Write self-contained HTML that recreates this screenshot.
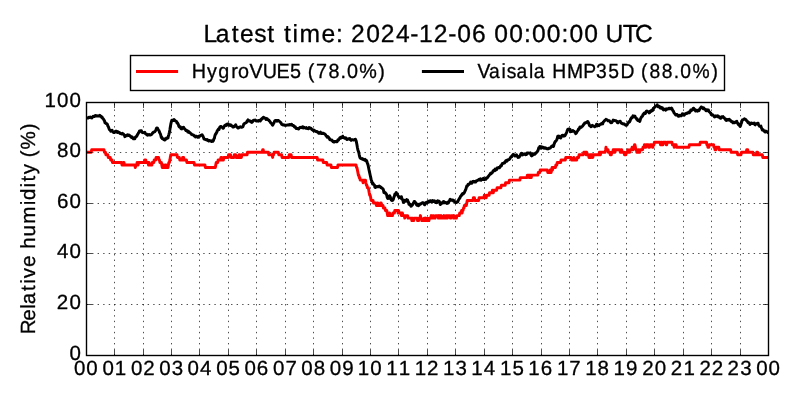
<!DOCTYPE html>
<html><head><meta charset="utf-8"><title>Relative humidity</title>
<style>html,body{margin:0;padding:0;background:#fff;}body{width:800px;height:400px;overflow:hidden;}svg{display:block;position:absolute;left:0;top:0;will-change:transform;}text{font-family:"Liberation Sans",sans-serif;fill:#000;text-rendering:geometricPrecision;stroke:#000;stroke-width:0.3px;stroke-linejoin:round;}</style>
</head><body>
<svg width="800" height="400" viewBox="0 0 800 400">
<rect x="0" y="0" width="800" height="400" fill="#ffffff"/>
<path d="M114.5 355.5V102.5M143.5 355.5V102.5M171.5 355.5V102.5M199.5 355.5V102.5M228.5 355.5V102.5M256.5 355.5V102.5M285.5 355.5V102.5M313.5 355.5V102.5M342.5 355.5V102.5M370.5 355.5V102.5M398.5 355.5V102.5M427.5 355.5V102.5M455.5 355.5V102.5M484.5 355.5V102.5M512.5 355.5V102.5M541.5 355.5V102.5M569.5 355.5V102.5M597.5 355.5V102.5M626.5 355.5V102.5M654.5 355.5V102.5M683.5 355.5V102.5M711.5 355.5V102.5M740.5 355.5V102.5M86.5 304.5H768.5M86.5 253.5H768.5M86.5 203.5H768.5M86.5 152.5H768.5" fill="none" stroke="#000" stroke-width="0.7" stroke-dasharray="1.39 4.17"/>
<clipPath id="c"><rect x="86.5" y="102.5" width="682.0" height="253.0"/></clipPath>
<path clip-path="url(#c)" d="M86.5 152.3L91.2 152.3L91.7 149.8L104.0 149.8L104.5 152.3L105.4 152.3L105.9 154.8L107.8 154.8L108.3 157.4L110.2 157.4L110.7 159.9L112.1 159.9L112.5 162.4L121.5 162.4L122.0 164.9L123.0 164.9L123.4 162.4L123.9 162.4L124.4 164.9L134.8 164.9L135.3 167.5L135.3 167.5L135.8 164.9L136.7 164.9L137.2 162.4L137.2 162.4L137.7 164.9L138.1 164.9L138.6 162.4L144.3 162.4L144.8 159.9L145.7 159.9L146.2 162.4L148.1 162.4L148.5 164.9L148.5 164.9L149.0 162.4L149.0 162.4L149.5 164.9L151.9 164.9L152.3 162.4L153.8 162.4L154.2 159.9L155.7 159.9L156.1 157.4L158.5 157.4L159.0 159.9L159.4 159.9L159.9 162.4L161.3 162.4L161.8 164.9L161.8 164.9L162.3 167.5L162.8 167.5L163.2 164.9L163.2 164.9L163.7 167.5L164.7 167.5L165.1 164.9L166.1 164.9L166.5 167.5L168.0 167.5L168.4 164.9L168.4 164.9L168.9 162.4L169.4 162.4L169.9 159.9L169.9 159.9L170.3 157.4L170.3 157.4L170.8 154.8L177.0 154.8L177.4 157.4L179.3 157.4L179.8 159.9L182.2 159.9L182.6 157.4L183.6 157.4L184.1 159.9L186.4 159.9L186.9 162.4L194.0 162.4L194.5 164.9L204.9 164.9L205.4 167.5L215.3 167.5L215.8 164.9L215.8 164.9L216.3 162.4L217.7 162.4L218.2 159.9L220.5 159.9L221.0 157.4L221.5 157.4L221.9 159.9L223.4 159.9L223.8 157.4L228.1 157.4L228.6 154.8L230.5 154.8L230.9 157.4L233.8 157.4L234.3 154.8L235.7 154.8L236.2 157.4L238.5 157.4L239.0 154.8L239.5 154.8L239.9 157.4L241.4 157.4L241.8 154.8L247.1 154.8L247.5 152.3L262.2 152.3L262.7 149.8L263.2 149.8L263.6 152.3L268.4 152.3L268.8 154.8L272.2 154.8L272.6 157.4L272.6 157.4L273.1 154.8L273.6 154.8L274.1 152.3L278.3 152.3L278.8 154.8L281.6 154.8L282.1 157.4L288.7 157.4L289.2 154.8L291.1 154.8L291.6 157.4L317.1 157.4L317.6 159.9L322.8 159.9L323.3 162.4L326.6 162.4L327.1 164.9L330.9 164.9L331.4 167.5L337.5 167.5L338.0 164.9L356.0 164.9L356.5 167.5L356.9 167.5L357.4 170.0L357.4 170.0L357.9 172.5L357.9 172.5L358.4 175.1L358.8 175.1L359.3 177.6L359.8 177.6L360.2 180.1L362.6 180.1L363.1 182.7L363.1 182.7L363.6 180.1L365.5 180.1L365.9 182.7L365.9 182.7L366.4 185.2L366.9 185.2L367.4 187.7L368.3 187.7L368.8 190.2L368.8 190.2L369.2 192.8L369.2 192.8L369.7 195.3L370.2 195.3L370.7 197.8L370.7 197.8L371.1 200.4L373.0 200.4L373.5 202.9L375.9 202.9L376.4 205.4L376.8 205.4L377.3 202.9L377.8 202.9L378.2 205.4L380.1 205.4L380.6 202.9L381.1 202.9L381.6 205.4L383.0 205.4L383.4 208.0L384.9 208.0L385.4 210.5L386.8 210.5L387.2 213.0L387.2 213.0L387.7 215.6L389.1 215.6L389.6 213.0L389.6 213.0L390.1 215.6L392.4 215.6L392.9 213.0L394.4 213.0L394.8 210.5L397.7 210.5L398.1 213.0L398.1 213.0L398.6 210.5L398.6 210.5L399.1 213.0L401.0 213.0L401.4 215.6L401.4 215.6L401.9 213.0L402.4 213.0L402.9 215.6L404.3 215.6L404.8 218.1L404.8 218.1L405.2 215.6L407.6 215.6L408.1 218.1L411.4 218.1L411.9 220.6L411.9 220.6L412.3 218.1L412.8 218.1L413.3 220.6L413.8 220.6L414.2 218.1L417.1 218.1L417.6 220.6L418.5 220.6L419.0 218.1L419.9 218.1L420.4 215.6L420.4 215.6L420.9 218.1L421.3 218.1L421.8 220.6L423.7 220.6L424.2 218.1L424.7 218.1L425.1 220.6L425.1 220.6L425.6 218.1L425.6 218.1L426.1 220.6L426.6 220.6L427.0 218.1L427.5 218.1L428.0 220.6L428.9 220.6L429.4 218.1L430.8 218.1L431.3 215.6L431.3 215.6L431.8 218.1L432.2 218.1L432.7 215.6L433.7 215.6L434.1 218.1L435.1 218.1L435.6 215.6L437.9 215.6L438.4 218.1L438.9 218.1L439.3 215.6L439.3 215.6L439.8 218.1L440.8 218.1L441.2 215.6L441.2 215.6L441.7 218.1L443.6 218.1L444.1 215.6L444.1 215.6L444.6 218.1L445.5 218.1L446.0 215.6L446.9 215.6L447.4 218.1L447.4 218.1L447.9 215.6L449.8 215.6L450.2 218.1L450.7 218.1L451.2 215.6L453.1 215.6L453.6 218.1L453.6 218.1L454.0 215.6L454.0 215.6L454.5 218.1L456.4 218.1L456.9 215.6L459.2 215.6L459.7 213.0L461.1 213.0L461.6 210.5L461.6 210.5L462.1 213.0L462.1 213.0L462.6 210.5L463.0 210.5L463.5 208.0L464.0 208.0L464.4 205.4L466.3 205.4L466.8 202.9L466.8 202.9L467.3 200.4L473.0 200.4L473.4 197.8L474.4 197.8L474.9 200.4L478.6 200.4L479.1 197.8L483.9 197.8L484.3 195.3L484.3 195.3L484.8 197.8L486.2 197.8L486.7 195.3L489.1 195.3L489.5 192.8L491.9 192.8L492.4 190.2L492.4 190.2L492.9 192.8L493.3 192.8L493.8 190.2L496.6 190.2L497.1 187.7L500.9 187.7L501.4 185.2L505.2 185.2L505.6 182.7L509.0 182.7L509.4 180.1L519.9 180.1L520.3 177.6L527.0 177.6L527.4 175.1L528.9 175.1L529.3 177.6L529.3 177.6L529.8 175.1L530.8 175.1L531.2 177.6L531.2 177.6L531.7 175.1L537.9 175.1L538.3 172.5L539.8 172.5L540.2 170.0L547.3 170.0L547.8 172.5L549.7 172.5L550.2 170.0L550.2 170.0L550.6 172.5L551.1 172.5L551.6 170.0L551.6 170.0L552.1 167.5L552.1 167.5L552.5 170.0L552.5 170.0L553.0 167.5L555.4 167.5L555.9 164.9L556.8 164.9L557.3 162.4L560.6 162.4L561.1 159.9L565.3 159.9L565.8 157.4L571.0 157.4L571.5 159.9L573.4 159.9L573.9 157.4L573.9 157.4L574.3 159.9L576.7 159.9L577.2 157.4L578.6 157.4L579.1 154.8L583.3 154.8L583.8 152.3L585.7 152.3L586.2 154.8L586.2 154.8L586.6 152.3L586.6 152.3L587.1 154.8L588.5 154.8L589.0 157.4L589.5 157.4L590.0 154.8L590.9 154.8L591.4 157.4L591.4 157.4L591.8 154.8L592.3 154.8L592.8 157.4L592.8 157.4L593.3 154.8L599.0 154.8L599.4 152.3L599.9 152.3L600.4 154.8L600.4 154.8L600.8 152.3L605.1 152.3L605.6 149.8L605.6 149.8L606.0 147.2L606.0 147.2L606.5 149.8L608.0 149.8L608.4 152.3L609.8 152.3L610.3 154.8L611.3 154.8L611.7 152.3L612.7 152.3L613.2 149.8L613.2 149.8L613.6 152.3L613.6 152.3L614.1 149.8L614.6 149.8L615.0 152.3L615.0 152.3L615.5 149.8L619.8 149.8L620.3 152.3L620.7 152.3L621.2 149.8L621.7 149.8L622.1 152.3L624.0 152.3L624.5 154.8L625.9 154.8L626.4 152.3L627.4 152.3L627.8 149.8L627.8 149.8L628.3 152.3L629.7 152.3L630.2 149.8L631.6 149.8L632.1 147.2L632.1 147.2L632.6 149.8L633.0 149.8L633.5 147.2L634.0 147.2L634.5 144.7L634.9 144.7L635.4 147.2L635.4 147.2L635.9 149.8L636.4 149.8L636.8 152.3L637.8 152.3L638.3 149.8L638.3 149.8L638.7 152.3L639.7 152.3L640.1 149.8L642.5 149.8L643.0 147.2L643.9 147.2L644.4 144.7L644.9 144.7L645.4 147.2L645.8 147.2L646.3 144.7L648.2 144.7L648.7 147.2L649.6 147.2L650.1 144.7L652.0 144.7L652.5 147.2L652.9 147.2L653.4 144.7L653.9 144.7L654.4 142.2L660.0 142.2L660.5 144.7L661.0 144.7L661.5 142.2L661.9 142.2L662.4 144.7L662.9 144.7L663.4 142.2L665.7 142.2L666.2 144.7L666.7 144.7L667.1 142.2L671.9 142.2L672.4 144.7L673.8 144.7L674.2 147.2L674.2 147.2L674.7 144.7L676.1 144.7L676.6 147.2L688.9 147.2L689.4 144.7L699.8 144.7L700.3 142.2L706.5 142.2L706.9 144.7L707.4 144.7L707.9 147.2L708.8 147.2L709.3 144.7L713.6 144.7L714.0 147.2L714.5 147.2L715.0 149.8L715.9 149.8L716.4 147.2L718.8 147.2L719.2 149.8L730.6 149.8L731.1 152.3L737.2 152.3L737.7 154.8L741.0 154.8L741.5 152.3L746.2 152.3L746.7 149.8L747.7 149.8L748.1 152.3L752.9 152.3L753.3 154.8L756.2 154.8L756.7 152.3L757.6 152.3L758.1 154.8L762.3 154.8L762.8 157.4L768.5 157.4" fill="none" stroke="#ff0000" stroke-width="2.95" stroke-linejoin="round" stroke-linecap="butt"/>
<path clip-path="url(#c)" d="M86.5 117.5L87.0 118.0L87.5 118.0L87.9 117.8L88.4 118.0L88.9 117.3L89.3 117.5L89.8 117.2L90.3 117.1L90.8 117.4L91.2 117.8L91.7 118.0L92.2 117.6L92.7 116.7L93.1 116.3L93.6 116.5L94.1 116.5L94.5 116.6L95.0 115.6L95.5 115.5L96.0 115.9L96.5 116.0L96.9 115.8L97.4 116.0L97.9 116.1L98.3 115.9L98.8 115.9L99.3 115.7L99.8 115.2L100.2 116.3L100.7 116.2L101.2 116.4L101.7 117.5L102.1 117.1L102.6 118.3L103.1 118.7L103.5 119.2L104.0 120.2L104.5 120.8L105.0 122.8L105.4 122.6L105.9 123.5L106.4 123.5L106.9 123.9L107.3 124.1L107.8 125.9L108.3 126.6L108.8 128.0L109.2 129.1L109.7 129.8L110.2 130.1L110.7 131.2L111.1 130.4L111.6 130.5L112.1 130.2L112.5 131.1L113.0 132.0L113.5 132.5L114.0 132.5L114.4 132.5L114.9 132.2L115.4 131.3L115.9 131.3L116.3 131.2L116.8 131.4L117.3 132.5L117.8 132.4L118.2 131.9L118.7 132.3L119.2 132.4L119.7 133.3L120.1 133.5L120.6 133.2L121.1 133.7L121.5 133.9L122.0 133.9L122.5 133.4L123.0 134.0L123.4 134.0L123.9 134.6L124.4 135.3L124.9 136.7L125.3 136.1L125.8 135.8L126.3 135.3L126.8 135.8L127.2 134.9L127.7 134.8L128.2 135.1L128.7 135.4L129.1 135.0L129.6 135.9L130.1 135.8L130.6 136.6L131.0 136.9L131.5 137.4L132.0 136.8L132.4 137.2L132.9 138.2L133.4 138.8L133.9 138.4L134.3 138.6L134.8 138.7L135.3 137.3L135.8 136.8L136.2 136.7L136.7 136.2L137.2 135.3L137.7 134.2L138.1 133.6L138.6 132.8L139.1 131.8L139.5 131.0L140.0 131.2L140.5 130.7L141.0 130.9L141.4 130.8L141.9 132.3L142.4 132.2L142.9 132.7L143.3 132.6L143.8 132.6L144.3 132.5L144.8 132.2L145.2 133.3L145.7 134.0L146.2 134.0L146.7 134.2L147.1 135.0L147.6 135.2L148.1 135.1L148.5 134.6L149.0 134.7L149.5 134.5L150.0 135.1L150.4 135.0L150.9 134.8L151.4 134.5L151.9 134.1L152.3 133.4L152.8 132.9L153.3 132.3L153.8 132.0L154.2 132.0L154.7 131.7L155.2 131.1L155.7 130.4L156.1 129.4L156.6 128.1L157.1 127.9L157.5 128.2L158.0 129.2L158.5 130.0L159.0 130.7L159.4 132.0L159.9 133.0L160.4 133.9L160.9 135.6L161.3 137.4L161.8 137.2L162.3 138.7L162.8 138.9L163.2 138.7L163.7 139.5L164.2 139.6L164.7 140.0L165.1 138.9L165.6 138.6L166.1 139.0L166.5 137.9L167.0 137.9L167.5 138.2L168.0 138.0L168.4 136.0L168.9 134.3L169.4 132.4L169.9 129.8L170.3 126.9L170.8 124.2L171.3 122.0L171.8 120.3L172.2 120.1L172.7 120.1L173.2 120.0L173.6 120.5L174.1 119.5L174.6 120.3L175.1 120.6L175.5 121.0L176.0 121.3L176.5 121.6L177.0 123.0L177.4 122.8L177.9 123.7L178.4 124.7L178.8 126.2L179.3 126.9L179.8 126.8L180.3 126.8L180.8 128.3L181.2 128.8L181.7 128.9L182.2 127.6L182.6 127.6L183.1 128.1L183.6 127.3L184.1 128.1L184.5 128.6L185.0 129.2L185.5 129.8L186.0 130.6L186.4 130.6L186.9 130.5L187.4 130.8L187.8 132.1L188.3 131.3L188.8 131.5L189.3 132.6L189.8 132.6L190.2 132.8L190.7 133.5L191.2 133.8L191.6 134.5L192.1 134.7L192.6 134.8L193.1 135.0L193.5 135.0L194.0 135.8L194.5 136.3L195.0 136.1L195.4 136.9L195.9 136.4L196.4 136.3L196.8 136.2L197.3 136.7L197.8 137.3L198.3 137.2L198.8 136.7L199.2 136.1L199.7 136.2L200.2 135.9L200.6 135.4L201.1 135.3L201.6 135.1L202.1 134.7L202.5 135.4L203.0 136.3L203.5 137.5L204.0 138.9L204.4 138.9L204.9 139.2L205.4 139.6L205.8 139.5L206.3 139.9L206.8 140.0L207.3 139.5L207.7 140.4L208.2 140.4L208.7 140.9L209.2 140.4L209.6 140.5L210.1 140.6L210.6 141.0L211.1 141.2L211.5 141.5L212.0 140.8L212.5 141.0L212.9 141.2L213.4 140.6L213.9 138.8L214.4 138.3L214.8 136.1L215.3 134.5L215.8 134.1L216.3 132.8L216.7 132.6L217.2 130.8L217.7 130.5L218.2 129.4L218.6 128.9L219.1 129.4L219.6 127.6L220.1 126.8L220.5 126.6L221.0 126.4L221.5 126.9L221.9 127.2L222.4 127.5L222.9 128.3L223.4 128.2L223.8 127.3L224.3 126.1L224.8 125.5L225.3 125.1L225.7 125.2L226.2 125.5L226.7 124.2L227.2 124.5L227.6 124.0L228.1 123.8L228.6 125.1L229.1 124.8L229.5 124.8L230.0 125.5L230.5 125.5L230.9 124.9L231.4 125.9L231.9 125.9L232.4 126.1L232.8 127.0L233.3 126.7L233.8 126.9L234.3 126.4L234.7 125.9L235.2 125.7L235.7 124.8L236.2 126.2L236.6 126.8L237.1 127.1L237.6 127.6L238.1 128.1L238.5 128.1L239.0 127.2L239.5 127.3L239.9 127.0L240.4 126.7L240.9 127.0L241.4 127.3L241.8 127.2L242.3 126.9L242.8 126.8L243.3 125.7L243.7 124.3L244.2 123.7L244.7 123.3L245.2 123.3L245.6 122.9L246.1 122.7L246.6 122.2L247.1 121.0L247.5 120.9L248.0 119.9L248.5 120.2L248.9 121.1L249.4 120.9L249.9 121.0L250.4 121.0L250.8 121.8L251.3 122.2L251.8 122.4L252.3 121.9L252.7 121.5L253.2 120.5L253.7 120.2L254.2 120.2L254.6 120.2L255.1 119.9L255.6 120.3L256.1 121.0L256.5 120.8L257.0 120.9L257.5 120.9L257.9 120.8L258.4 121.1L258.9 120.5L259.4 120.4L259.8 120.3L260.3 121.0L260.8 120.1L261.3 119.4L261.7 118.7L262.2 119.0L262.7 118.2L263.2 117.4L263.6 117.3L264.1 117.9L264.6 118.0L265.1 118.1L265.5 118.2L266.0 119.5L266.5 118.7L266.9 118.6L267.4 119.0L267.9 119.7L268.4 120.0L268.8 120.0L269.3 121.0L269.8 121.3L270.3 122.0L270.7 122.8L271.2 123.3L271.7 123.5L272.2 124.6L272.6 125.2L273.1 124.4L273.6 123.3L274.1 122.6L274.5 121.4L275.0 120.7L275.5 120.5L275.9 120.6L276.4 120.5L276.9 121.3L277.4 120.5L277.8 120.4L278.3 120.5L278.8 120.9L279.3 121.3L279.7 121.5L280.2 122.2L280.7 122.5L281.1 123.0L281.6 124.2L282.1 124.5L282.6 124.9L283.1 124.8L283.5 124.8L284.0 125.1L284.5 125.3L284.9 125.1L285.4 125.2L285.9 125.2L286.4 125.2L286.8 125.1L287.3 125.0L287.8 124.9L288.3 125.1L288.7 124.8L289.2 124.9L289.7 124.6L290.1 124.4L290.6 124.7L291.1 125.0L291.6 124.2L292.1 125.1L292.5 125.5L293.0 125.2L293.5 125.5L293.9 126.2L294.4 126.9L294.9 126.6L295.4 127.0L295.8 128.0L296.3 128.6L296.8 128.6L297.3 128.6L297.7 128.4L298.2 128.9L298.7 128.9L299.1 128.2L299.6 127.7L300.1 127.3L300.6 127.5L301.1 127.6L301.5 127.5L302.0 127.7L302.5 126.8L302.9 126.9L303.4 127.9L303.9 127.3L304.4 127.6L304.8 127.8L305.3 128.0L305.8 128.3L306.3 127.5L306.7 128.1L307.2 128.4L307.7 128.4L308.1 128.8L308.6 128.7L309.1 127.6L309.6 128.1L310.0 127.8L310.5 128.2L311.0 128.2L311.5 129.0L311.9 129.6L312.4 129.8L312.9 129.8L313.4 130.7L313.8 130.4L314.3 130.2L314.8 131.0L315.2 131.1L315.7 131.2L316.2 131.7L316.7 131.4L317.1 131.6L317.6 131.8L318.1 132.5L318.6 133.2L319.0 133.1L319.5 133.2L320.0 132.5L320.5 132.1L320.9 133.4L321.4 133.5L321.9 133.2L322.4 133.4L322.8 133.4L323.3 133.2L323.8 133.6L324.2 133.7L324.7 134.0L325.2 134.4L325.7 135.0L326.1 135.8L326.6 136.3L327.1 137.1L327.6 136.5L328.0 136.8L328.5 137.2L329.0 138.4L329.5 138.4L329.9 139.7L330.4 139.9L330.9 139.8L331.4 140.0L331.8 139.9L332.3 141.0L332.8 140.9L333.2 141.8L333.7 142.1L334.2 141.6L334.7 141.9L335.1 141.5L335.6 141.4L336.1 141.4L336.6 141.7L337.0 141.8L337.5 140.8L338.0 139.7L338.5 140.1L338.9 139.2L339.4 138.7L339.9 137.7L340.4 137.4L340.8 138.2L341.3 137.2L341.8 137.4L342.2 137.4L342.7 136.2L343.2 137.4L343.7 137.2L344.1 137.6L344.6 138.2L345.1 138.3L345.6 137.7L346.0 138.5L346.5 139.1L347.0 139.5L347.5 139.1L347.9 139.3L348.4 138.8L348.9 139.0L349.4 138.8L349.8 138.5L350.3 139.6L350.8 139.4L351.2 140.3L351.7 139.9L352.2 139.6L352.7 139.6L353.1 139.9L353.6 140.0L354.1 139.9L354.6 139.6L355.0 139.4L355.5 139.3L356.0 140.5L356.5 142.4L356.9 144.6L357.4 147.5L357.9 149.9L358.4 151.3L358.8 152.4L359.3 155.1L359.8 157.2L360.2 158.0L360.7 158.5L361.2 158.5L361.7 158.8L362.1 158.6L362.6 159.2L363.1 159.0L363.6 159.7L364.0 159.5L364.5 159.7L365.0 159.3L365.5 160.7L365.9 160.1L366.4 160.5L366.9 161.5L367.4 163.4L367.8 164.1L368.3 166.2L368.8 168.8L369.2 170.7L369.7 172.9L370.2 175.2L370.7 177.4L371.1 179.4L371.6 180.8L372.1 182.2L372.6 184.0L373.0 183.2L373.5 184.4L374.0 184.6L374.5 185.2L374.9 187.1L375.4 187.5L375.9 186.8L376.4 186.9L376.8 186.6L377.3 186.8L377.8 186.6L378.2 186.8L378.7 186.2L379.2 186.1L379.7 186.4L380.1 186.4L380.6 187.4L381.1 187.2L381.6 188.0L382.0 188.0L382.5 188.7L383.0 188.9L383.4 189.8L383.9 192.4L384.4 191.8L384.9 192.9L385.4 192.8L385.8 193.5L386.3 193.9L386.8 195.5L387.2 197.4L387.7 198.5L388.2 198.3L388.7 198.4L389.1 197.1L389.6 195.7L390.1 196.5L390.6 197.9L391.0 199.3L391.5 200.3L392.0 200.6L392.4 199.3L392.9 200.2L393.4 199.2L393.9 197.0L394.4 196.3L394.8 194.2L395.3 194.6L395.8 193.3L396.2 192.6L396.7 193.8L397.2 193.8L397.7 195.3L398.1 195.7L398.6 196.9L399.1 197.5L399.6 197.1L400.0 197.5L400.5 197.7L401.0 198.3L401.4 196.7L401.9 198.2L402.4 199.5L402.9 200.1L403.4 202.4L403.8 201.7L404.3 201.2L404.8 200.2L405.2 200.7L405.7 201.2L406.2 200.6L406.7 199.6L407.1 201.0L407.6 200.1L408.1 201.6L408.6 202.8L409.0 204.3L409.5 204.7L410.0 204.0L410.4 205.0L410.9 206.2L411.4 206.1L411.9 204.7L412.3 205.2L412.8 204.1L413.3 203.4L413.8 202.4L414.2 201.4L414.7 201.4L415.2 202.3L415.7 202.8L416.1 203.6L416.6 204.9L417.1 205.3L417.6 204.2L418.0 205.4L418.5 205.8L419.0 205.3L419.4 204.9L419.9 203.9L420.4 203.9L420.9 203.9L421.3 203.3L421.8 203.1L422.3 202.8L422.8 202.9L423.2 202.8L423.7 203.1L424.2 204.4L424.7 204.8L425.1 204.2L425.6 203.1L426.1 202.4L426.6 202.3L427.0 202.9L427.5 202.8L428.0 202.2L428.4 201.3L428.9 201.2L429.4 202.0L429.9 201.8L430.3 200.8L430.8 200.7L431.3 201.4L431.8 201.7L432.2 201.4L432.7 200.6L433.2 201.4L433.7 201.1L434.1 201.2L434.6 200.8L435.1 202.0L435.6 202.6L436.0 202.4L436.5 202.6L437.0 201.3L437.4 201.9L437.9 200.8L438.4 201.0L438.9 201.3L439.3 201.4L439.8 202.8L440.3 204.6L440.8 202.7L441.2 203.1L441.7 203.5L442.2 203.0L442.7 203.1L443.1 201.9L443.6 201.5L444.1 202.4L444.6 202.8L445.0 202.2L445.5 202.6L446.0 202.6L446.4 202.7L446.9 203.5L447.4 203.2L447.9 201.9L448.3 203.0L448.8 201.5L449.3 201.3L449.8 200.0L450.2 199.2L450.7 200.2L451.2 199.7L451.6 200.0L452.1 200.3L452.6 200.0L453.1 200.9L453.6 200.4L454.0 201.3L454.5 201.2L455.0 202.1L455.4 202.0L455.9 202.6L456.4 202.5L456.9 201.9L457.3 201.8L457.8 201.9L458.3 200.4L458.8 199.5L459.2 198.9L459.7 198.2L460.2 197.3L460.6 196.2L461.1 195.9L461.6 195.1L462.1 194.1L462.6 193.6L463.0 194.1L463.5 193.6L464.0 193.0L464.4 192.5L464.9 191.2L465.4 190.3L465.9 189.1L466.3 187.6L466.8 185.9L467.3 186.2L467.8 185.0L468.2 184.2L468.7 184.6L469.2 184.2L469.6 183.7L470.1 183.2L470.6 182.0L471.1 183.1L471.6 183.3L472.0 182.4L472.5 181.7L473.0 182.0L473.4 181.4L473.9 181.9L474.4 182.0L474.9 181.4L475.3 181.2L475.8 182.0L476.3 180.9L476.8 180.7L477.2 180.8L477.7 180.3L478.2 179.9L478.6 179.9L479.1 179.4L479.6 179.9L480.1 179.4L480.5 178.8L481.0 180.3L481.5 179.4L482.0 179.6L482.4 179.5L482.9 179.1L483.4 178.2L483.9 179.2L484.3 179.6L484.8 179.5L485.3 178.9L485.8 179.3L486.2 177.9L486.7 177.9L487.2 178.0L487.6 177.4L488.1 176.6L488.6 176.0L489.1 175.4L489.5 174.8L490.0 174.5L490.5 173.4L491.0 173.8L491.4 172.9L491.9 172.9L492.4 172.6L492.9 171.2L493.3 170.8L493.8 170.2L494.3 170.5L494.8 170.8L495.2 169.1L495.7 169.2L496.2 168.9L496.6 169.6L497.1 167.9L497.6 168.2L498.1 168.1L498.5 167.6L499.0 167.2L499.5 167.7L500.0 166.8L500.4 166.4L500.9 165.5L501.4 165.9L501.9 164.4L502.3 163.5L502.8 163.6L503.3 163.2L503.8 162.9L504.2 162.5L504.7 162.9L505.2 162.0L505.6 161.0L506.1 160.4L506.6 160.4L507.1 161.1L507.5 160.0L508.0 159.9L508.5 159.6L509.0 159.5L509.4 159.2L509.9 158.7L510.4 157.6L510.9 157.0L511.3 156.5L511.8 156.8L512.3 155.6L512.8 154.8L513.2 154.3L513.7 154.9L514.2 154.7L514.6 155.4L515.1 156.0L515.6 155.7L516.1 155.7L516.5 154.8L517.0 156.3L517.5 156.3L518.0 157.4L518.4 156.9L518.9 157.3L519.4 157.0L519.9 155.9L520.3 155.5L520.8 154.1L521.3 154.3L521.8 153.3L522.2 153.6L522.7 154.9L523.2 154.2L523.6 154.2L524.1 153.8L524.6 154.4L525.1 154.5L525.5 154.7L526.0 153.7L526.5 154.5L527.0 153.1L527.4 152.9L527.9 153.1L528.4 152.9L528.9 153.2L529.3 153.2L529.8 153.4L530.3 152.9L530.8 154.4L531.2 155.4L531.7 155.9L532.2 155.5L532.6 155.1L533.1 153.9L533.6 154.4L534.1 153.8L534.5 153.8L535.0 154.2L535.5 153.4L536.0 152.6L536.4 152.6L536.9 152.2L537.4 151.2L537.9 150.7L538.3 149.4L538.8 147.7L539.3 147.8L539.8 146.4L540.2 147.4L540.7 148.1L541.2 147.8L541.6 146.9L542.1 147.6L542.6 147.2L543.1 147.7L543.5 147.3L544.0 148.3L544.5 148.3L545.0 147.8L545.4 147.9L545.9 147.9L546.4 148.6L546.9 148.7L547.3 148.8L547.8 148.9L548.3 148.6L548.7 148.3L549.2 148.4L549.7 148.0L550.2 148.1L550.6 147.6L551.1 147.0L551.6 146.2L552.1 146.1L552.5 145.9L553.0 145.5L553.5 146.5L554.0 144.3L554.4 143.4L554.9 142.0L555.4 141.2L555.9 141.2L556.3 140.3L556.8 139.6L557.3 138.3L557.7 136.2L558.2 136.1L558.7 136.4L559.2 136.3L559.6 137.6L560.1 137.7L560.6 138.0L561.1 137.4L561.5 136.5L562.0 135.5L562.5 135.4L563.0 135.2L563.4 135.5L563.9 136.2L564.4 136.0L564.9 135.7L565.3 135.0L565.8 134.0L566.3 133.2L566.7 132.2L567.2 130.6L567.7 129.5L568.2 129.1L568.6 129.6L569.1 129.7L569.6 129.1L570.1 129.5L570.5 131.7L571.0 131.4L571.5 131.6L572.0 131.6L572.4 130.9L572.9 130.5L573.4 131.1L573.9 131.1L574.3 131.5L574.8 132.3L575.3 132.7L575.7 133.6L576.2 133.2L576.7 132.4L577.2 131.4L577.6 130.9L578.1 130.2L578.6 128.9L579.1 129.1L579.5 128.2L580.0 126.9L580.5 127.2L581.0 127.5L581.4 127.1L581.9 126.5L582.4 126.2L582.8 125.9L583.3 124.9L583.8 124.4L584.3 123.6L584.7 123.0L585.2 122.9L585.7 122.9L586.2 122.5L586.6 122.2L587.1 121.9L587.6 121.5L588.0 121.8L588.5 123.0L589.0 124.0L589.5 125.5L590.0 125.6L590.4 125.9L590.9 126.8L591.4 126.4L591.8 125.7L592.3 125.2L592.8 125.8L593.3 126.1L593.7 126.1L594.2 126.1L594.7 126.8L595.2 126.3L595.6 126.2L596.1 126.1L596.6 124.2L597.0 124.8L597.5 124.5L598.0 125.5L598.5 125.2L599.0 125.6L599.4 125.1L599.9 124.4L600.4 124.3L600.8 124.2L601.3 123.6L601.8 123.9L602.3 123.6L602.7 123.8L603.2 122.1L603.7 121.7L604.2 121.0L604.6 120.7L605.1 120.0L605.6 120.1L606.0 119.4L606.5 119.7L607.0 119.9L607.5 120.1L608.0 120.8L608.4 120.5L608.9 120.8L609.4 120.7L609.8 121.4L610.3 122.0L610.8 122.8L611.3 122.8L611.7 122.6L612.2 121.8L612.7 121.2L613.2 120.1L613.6 120.2L614.1 120.6L614.6 120.5L615.0 120.7L615.5 120.6L616.0 120.7L616.5 121.2L616.9 121.5L617.4 122.6L617.9 122.8L618.4 121.8L618.8 121.7L619.3 121.8L619.8 121.3L620.3 121.3L620.7 122.2L621.2 123.2L621.7 123.1L622.1 123.5L622.6 123.8L623.1 124.0L623.6 123.8L624.0 123.8L624.5 124.3L625.0 124.6L625.5 125.0L625.9 125.3L626.4 124.8L626.9 125.1L627.4 124.2L627.8 123.2L628.3 122.6L628.8 121.8L629.3 122.2L629.7 121.6L630.2 120.6L630.7 118.8L631.1 118.4L631.6 117.6L632.1 117.8L632.6 116.8L633.0 115.8L633.5 116.0L634.0 116.7L634.5 116.6L634.9 116.1L635.4 117.2L635.9 118.0L636.4 118.5L636.8 119.3L637.3 119.1L637.8 120.6L638.3 120.6L638.7 120.6L639.2 120.6L639.7 121.5L640.1 120.4L640.6 118.7L641.1 117.6L641.6 116.8L642.0 116.5L642.5 116.1L643.0 114.4L643.5 114.5L643.9 113.4L644.4 113.0L644.9 113.4L645.4 113.5L645.8 112.5L646.3 111.2L646.8 110.9L647.3 111.3L647.7 111.4L648.2 111.8L648.7 112.4L649.1 112.9L649.6 112.7L650.1 111.3L650.6 111.4L651.0 111.4L651.5 110.2L652.0 110.2L652.5 110.6L652.9 109.7L653.4 108.2L653.9 108.1L654.4 107.4L654.8 107.2L655.3 106.5L655.8 106.2L656.2 105.8L656.7 105.5L657.2 104.8L657.7 105.8L658.1 106.8L658.6 106.0L659.1 106.3L659.6 106.7L660.0 107.9L660.5 107.6L661.0 107.2L661.5 108.3L661.9 108.0L662.4 107.8L662.9 109.3L663.4 109.9L663.8 109.1L664.3 109.4L664.8 109.3L665.2 109.0L665.7 110.1L666.2 109.1L666.7 109.4L667.1 108.8L667.6 109.0L668.1 109.0L668.6 108.5L669.0 108.3L669.5 108.2L670.0 108.8L670.5 108.6L670.9 108.6L671.4 108.1L671.9 108.4L672.4 109.9L672.8 110.7L673.3 111.0L673.8 112.5L674.2 112.9L674.7 113.6L675.2 114.2L675.7 115.0L676.1 114.4L676.6 114.5L677.1 114.4L677.6 115.4L678.0 115.2L678.5 116.3L679.0 116.3L679.5 115.5L679.9 115.2L680.4 115.7L680.9 115.3L681.4 115.8L681.8 114.9L682.3 113.8L682.8 114.2L683.2 113.9L683.7 114.1L684.2 115.1L684.7 114.3L685.1 114.2L685.6 113.7L686.1 113.3L686.6 113.3L687.0 113.5L687.5 113.0L688.0 113.0L688.5 112.3L688.9 112.0L689.4 112.8L689.9 111.8L690.4 111.4L690.8 110.0L691.3 110.5L691.8 109.7L692.2 110.0L692.7 109.2L693.2 108.4L693.7 108.2L694.1 108.9L694.6 109.6L695.1 110.4L695.6 111.0L696.0 110.2L696.5 110.3L697.0 110.4L697.5 111.1L697.9 110.3L698.4 110.5L698.9 110.8L699.4 109.9L699.8 108.7L700.3 108.2L700.8 107.5L701.2 106.9L701.7 107.1L702.2 107.7L702.7 108.2L703.1 108.8L703.6 107.9L704.1 108.6L704.6 109.1L705.0 109.2L705.5 109.9L706.0 110.8L706.5 110.8L706.9 109.7L707.4 110.2L707.9 110.0L708.4 109.9L708.8 111.5L709.3 111.8L709.8 112.3L710.2 112.7L710.7 113.0L711.2 114.5L711.7 114.9L712.1 115.0L712.6 114.7L713.1 115.4L713.6 115.6L714.0 116.3L714.5 117.0L715.0 116.8L715.5 116.1L715.9 115.7L716.4 116.2L716.9 116.5L717.4 116.7L717.8 115.9L718.3 116.7L718.8 117.0L719.2 116.8L719.7 117.8L720.2 118.1L720.7 118.3L721.1 117.8L721.6 116.8L722.1 117.3L722.6 116.7L723.0 116.6L723.5 117.6L724.0 117.5L724.5 118.1L724.9 118.9L725.4 119.5L725.9 120.3L726.4 120.5L726.8 119.3L727.3 120.0L727.8 119.9L728.2 119.6L728.7 120.0L729.2 119.3L729.7 119.7L730.1 120.1L730.6 120.8L731.1 121.5L731.6 121.3L732.0 121.9L732.5 121.7L733.0 122.8L733.5 122.7L733.9 122.2L734.4 122.8L734.9 122.6L735.4 122.2L735.8 121.7L736.3 121.6L736.8 121.4L737.2 122.7L737.7 123.4L738.2 124.4L738.7 124.7L739.1 124.1L739.6 125.7L740.1 126.5L740.6 125.6L741.0 123.9L741.5 122.8L742.0 120.9L742.5 119.7L742.9 119.7L743.4 119.5L743.9 119.5L744.4 118.8L744.8 119.0L745.3 119.5L745.8 119.5L746.2 120.3L746.7 120.7L747.2 121.3L747.7 122.0L748.1 122.7L748.6 122.2L749.1 123.0L749.6 123.7L750.0 124.4L750.5 124.1L751.0 123.1L751.5 122.9L751.9 123.5L752.4 123.4L752.9 123.5L753.3 123.2L753.8 123.2L754.3 123.1L754.8 124.6L755.2 124.9L755.7 124.0L756.2 123.8L756.7 123.6L757.1 123.5L757.6 123.3L758.1 123.2L758.5 124.8L759.0 125.5L759.5 126.3L760.0 126.4L760.5 126.2L760.9 126.1L761.4 127.9L761.9 128.8L762.3 130.0L762.8 129.7L763.3 129.9L763.8 130.8L764.2 131.1L764.7 131.6L765.2 132.0L765.7 131.1L766.1 131.2L766.6 131.5L767.1 131.6L767.5 132.1L768.0 132.4L768.5 133.7" fill="none" stroke="#000000" stroke-width="2.95" stroke-linejoin="round" stroke-linecap="butt"/>
<path d="M86.5 355.5v-5.56M86.5 102.5v5.56M114.5 355.5v-5.56M114.5 102.5v5.56M143.5 355.5v-5.56M143.5 102.5v5.56M171.5 355.5v-5.56M171.5 102.5v5.56M199.5 355.5v-5.56M199.5 102.5v5.56M228.5 355.5v-5.56M228.5 102.5v5.56M256.5 355.5v-5.56M256.5 102.5v5.56M285.5 355.5v-5.56M285.5 102.5v5.56M313.5 355.5v-5.56M313.5 102.5v5.56M342.5 355.5v-5.56M342.5 102.5v5.56M370.5 355.5v-5.56M370.5 102.5v5.56M398.5 355.5v-5.56M398.5 102.5v5.56M427.5 355.5v-5.56M427.5 102.5v5.56M455.5 355.5v-5.56M455.5 102.5v5.56M484.5 355.5v-5.56M484.5 102.5v5.56M512.5 355.5v-5.56M512.5 102.5v5.56M541.5 355.5v-5.56M541.5 102.5v5.56M569.5 355.5v-5.56M569.5 102.5v5.56M597.5 355.5v-5.56M597.5 102.5v5.56M626.5 355.5v-5.56M626.5 102.5v5.56M654.5 355.5v-5.56M654.5 102.5v5.56M683.5 355.5v-5.56M683.5 102.5v5.56M711.5 355.5v-5.56M711.5 102.5v5.56M740.5 355.5v-5.56M740.5 102.5v5.56M768.5 355.5v-5.56M768.5 102.5v5.56M86.5 355.5h5.56M768.5 355.5h-5.56M86.5 304.5h5.56M768.5 304.5h-5.56M86.5 253.5h5.56M768.5 253.5h-5.56M86.5 203.5h5.56M768.5 203.5h-5.56M86.5 152.5h5.56M768.5 152.5h-5.56M86.5 102.5h5.56M768.5 102.5h-5.56" fill="none" stroke="#000" stroke-width="0.7"/>
<rect x="86.5" y="102.5" width="682.0" height="253.0" fill="none" stroke="#000" stroke-width="1.39"/>
<text transform="translate(0 42) scale(0.9978 1)" font-size="24.7" x="203.88 216.19 232.2 240.65 254.74 267.93 276.01 284.53 293.12 300.27 322.25 336.78 344.14 351.83 367.01 381.58 396.76 411.18 419.95 434.64 449.37 458.26 473.14 487.45 495.44 510.32 525.14 533.07 547.95 562.77 570.7 585.57 599.89 606.96 624.03 636.45" y="0">Latest time: 2024-12-06 00:00:00 UTC</text>
<rect x="130.5" y="55.5" width="594" height="35" fill="#fff" stroke="#000" stroke-width="1.39"/>
<path d="M136 71.5H178.1" stroke="#ff0000" stroke-width="2.78"/>
<path d="M421.9 71.5H464" stroke="#000000" stroke-width="2.78"/>
<text transform="translate(0 77.8) scale(0.9634 1)" font-size="20.5" x="199.04 214.88 226.55 239.93 247.12 259.05 272.77 287.04 300.94 313.15 319.57 328.11 340.98 353.46 360.23 372.83 392.57" y="0">HygroVUE5 (78.0%)</text>
<text transform="translate(0 77.8) scale(0.9400 1)" font-size="20.5" x="508.05 520.24 533.64 539.18 549.43 562.82 567.85 580.64 587.59 603.16 620.37 633.98 647.03 660.01 675.32 682 690.84 704 716.71 723.73 736.72 756.8" y="0">Vaisala HMP35D (88.0%)</text>
<text transform="translate(0 359.8) scale(1.0000 1)" font-size="20.5" x="69.4" y="0">0</text>
<text transform="translate(0 308.8) scale(1.0000 1)" font-size="20.5" x="56.78 69.4" y="0">20</text>
<text transform="translate(0 257.8) scale(1.0000 1)" font-size="20.5" x="57.03 69.4" y="0">40</text>
<text transform="translate(0 207.8) scale(1.0000 1)" font-size="20.5" x="57.03 69.4" y="0">60</text>
<text transform="translate(0 156.8) scale(1.0000 1)" font-size="20.5" x="57.03 69.4" y="0">80</text>
<text transform="translate(0 106.8) scale(1.0000 1)" font-size="20.5" x="44.56 57.03 69.4" y="0">100</text>
<text transform="translate(0 374.85) scale(1.0000 1)" font-size="20.5" x="73.92 86.28" y="0">00</text>
<text transform="translate(0 374.85) scale(1.0000 1)" font-size="20.5" x="102.6 114.86" y="0">01</text>
<text transform="translate(0 374.85) scale(1.0000 1)" font-size="20.5" x="131.1 143.21" y="0">02</text>
<text transform="translate(0 374.85) scale(1.0000 1)" font-size="20.5" x="159.34 171.73" y="0">03</text>
<text transform="translate(0 374.85) scale(1.0000 1)" font-size="20.5" x="187.54 199.9" y="0">04</text>
<text transform="translate(0 374.85) scale(1.0000 1)" font-size="20.5" x="216.27 228.56" y="0">05</text>
<text transform="translate(0 374.85) scale(1.0000 1)" font-size="20.5" x="244.46 256.83" y="0">06</text>
<text transform="translate(0 374.85) scale(1.0000 1)" font-size="20.5" x="273.11 285.44" y="0">07</text>
<text transform="translate(0 374.85) scale(1.0000 1)" font-size="20.5" x="301.37 313.74" y="0">08</text>
<text transform="translate(0 374.85) scale(1.0000 1)" font-size="20.5" x="329.82 342.13" y="0">09</text>
<text transform="translate(0 374.85) scale(1.0000 1)" font-size="20.5" x="357.68 370.16" y="0">10</text>
<text transform="translate(0 374.85) scale(1.0000 1)" font-size="20.5" x="386.37 398.73" y="0">11</text>
<text transform="translate(0 374.85) scale(1.0000 1)" font-size="20.5" x="414.87 427.09" y="0">12</text>
<text transform="translate(0 374.85) scale(1.0000 1)" font-size="20.5" x="443.11 455.61" y="0">13</text>
<text transform="translate(0 374.85) scale(1.0000 1)" font-size="20.5" x="471.3 483.78" y="0">14</text>
<text transform="translate(0 374.85) scale(1.0000 1)" font-size="20.5" x="500.04 512.44" y="0">15</text>
<text transform="translate(0 374.85) scale(1.0000 1)" font-size="20.5" x="528.23 540.7" y="0">16</text>
<text transform="translate(0 374.85) scale(1.0000 1)" font-size="20.5" x="556.88 569.31" y="0">17</text>
<text transform="translate(0 374.85) scale(1.0000 1)" font-size="20.5" x="585.14 597.62" y="0">18</text>
<text transform="translate(0 374.85) scale(1.0000 1)" font-size="20.5" x="613.59 626" y="0">19</text>
<text transform="translate(0 374.85) scale(1.0000 1)" font-size="20.5" x="642.19 654.81" y="0">20</text>
<text transform="translate(0 374.85) scale(1.0000 1)" font-size="20.5" x="670.87 683.39" y="0">21</text>
<text transform="translate(0 374.85) scale(1.0000 1)" font-size="20.5" x="699.38 711.74" y="0">22</text>
<text transform="translate(0 374.85) scale(1.0000 1)" font-size="20.5" x="727.61 740.26" y="0">23</text>
<text transform="translate(0 374.85) scale(1.0000 1)" font-size="20.5" x="756.24 768.6" y="0">00</text>
<text transform="translate(35 331.9) rotate(-90) scale(1.0005 1)" font-size="20.5" x="-2.25 11.04 23.1 27.59 40.89 48.03 53.62 64.81 76.45 83.09 95.35 108.23 126.61 131.93 144.34 150.22 157.55 168.43 174.46 182.3 201.54" y="0">Relative humidity (%)</text>
</svg>
</body></html>
